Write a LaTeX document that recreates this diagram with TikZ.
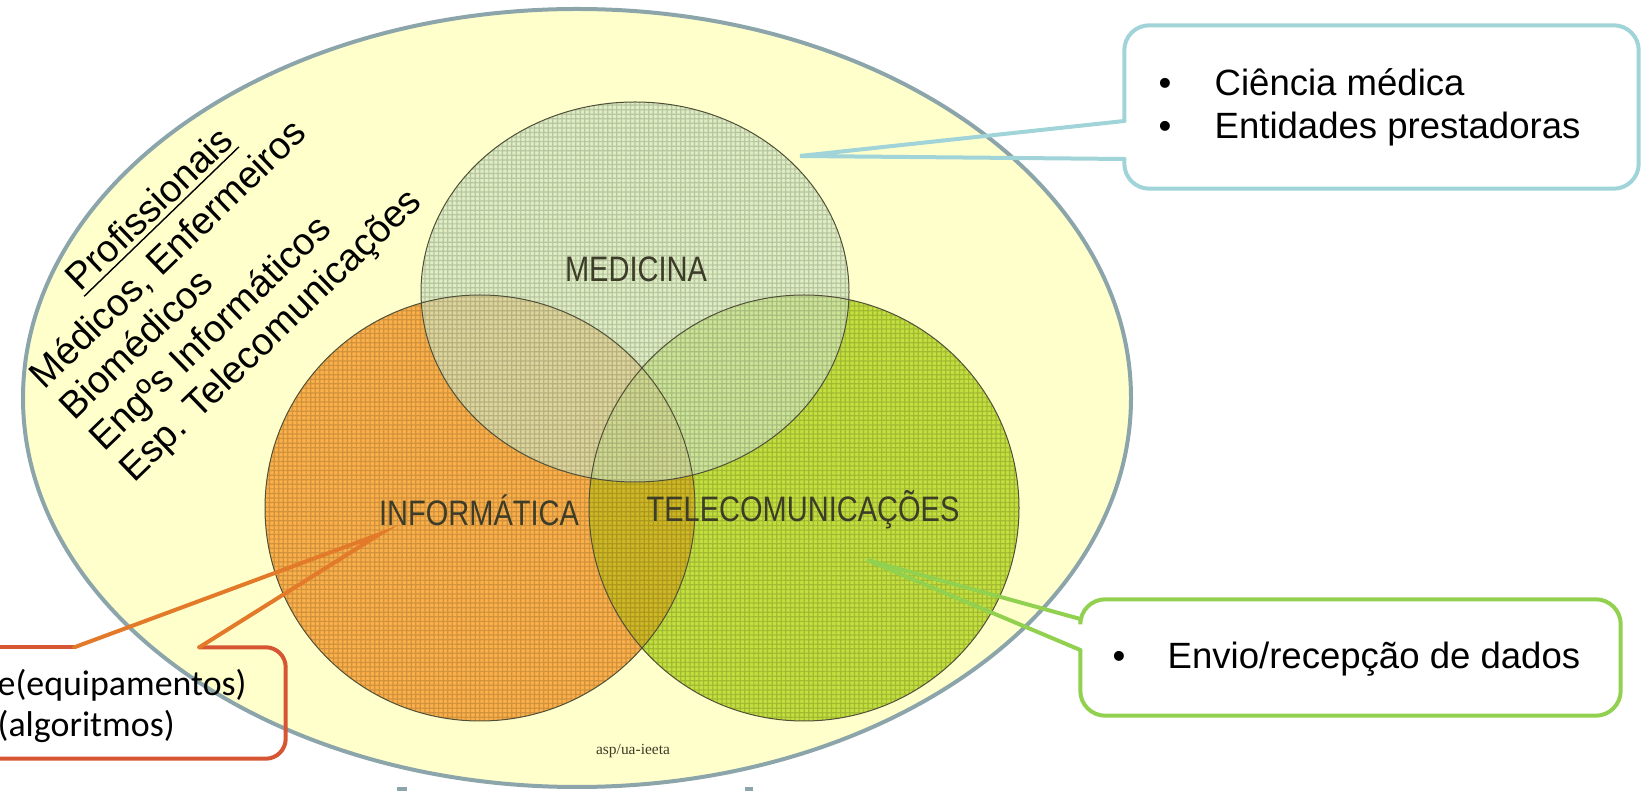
\documentclass[tikz,border=0pt]{standalone}
\usepackage{fontspec}
\setmainfont{Liberation Sans}
\newfontfamily\calfont{Carlito}
\newfontfamily\serfont{Liberation Serif}
\newfontfamily\narrowfont[FakeStretch=0.82]{Liberation Sans}
\usetikzlibrary{calc,patterns.meta}
\definecolor{rimgray}{HTML}{8CA5AA}
\definecolor{paleyellow}{HTML}{FFFFCC}
\definecolor{medgreen}{HTML}{D0E6BE}
\definecolor{infoorange}{HTML}{FCB04A}
\definecolor{telgreen}{HTML}{C4E03E}
\definecolor{mixolive}{HTML}{CFB826}
\definecolor{setline}{HTML}{505038}
\definecolor{setlabel}{HTML}{3C3C28}
\definecolor{calblue}{HTML}{A0D4D9}
\definecolor{calgreen}{HTML}{92D050}
\definecolor{calorange}{HTML}{E27A2A}
\definecolor{calred}{HTML}{D65532}
\tikzset{
  setname/.style={font=\narrowfont\fontsize{10.07}{12}\selectfont, text=setlabel, inner sep=0pt},
  bullettext/.style={font=\fontsize{10.4}{12.2}\selectfont, align=left, inner sep=0pt, anchor=west},
  proftext/.style={font=\fontsize{10.8}{12}\selectfont, anchor=base west, inner sep=0pt},
  boxframe/.style={inner sep=0pt},
  callline/.style={line width=0.4mm, line cap=round, line join=miter},
  setgrid/.style={pattern={Hatch[angle=0,distance=1.3pt,line width=0.35pt]}, pattern color=black},
}
\begin{document}
\begin{tikzpicture}[x=0.1mm,y=-0.1mm]
\useasboundingbox (0,0) rectangle (1641,791);
\draw[rimgray, line width=0.4mm, fill=paleyellow] (577,398) ellipse [x radius=554, y radius=389];
\fill[infoorange] (480,508) ellipse [x radius=215, y radius=213];
\fill[telgreen] (804,508) ellipse [x radius=215, y radius=213];
\begin{scope}
  \clip (480,508) ellipse [x radius=215, y radius=213];
  \fill[mixolive] (804,508) ellipse [x radius=215, y radius=213];
\end{scope}
\fill[medgreen, fill opacity=0.7] (635,292) ellipse [x radius=214, y radius=190];
\begin{scope}[transparency group, opacity=0.17]
  \fill[setgrid] (480,508) ellipse [x radius=215, y radius=213]
    (804,508) ellipse [x radius=215, y radius=213]
    (635,292) ellipse [x radius=214, y radius=190];
\end{scope}
\draw[setline, line width=0.1mm] (480,508) ellipse [x radius=215, y radius=213]
  (804,508) ellipse [x radius=215, y radius=213]
  (635,292) ellipse [x radius=214, y radius=190];
\node[setname] (medicina) at (636,269) {MEDICINA};
\node[setname] (informatica) at (479,510) {INFORMÁTICA};
\node[setname] (telecom) at (803,510) {TELECOMUNICAÇÕES};
\node[font=\serfont\fontsize{4.4}{5}\selectfont, text=setlabel, inner sep=0pt] (autor) at (633,751) {asp/ua-ieeta};
\begin{scope}[shift={(44,391)}, rotate=44, transform shape]
  \node[proftext] (profissionais) at (94,-45.5) {\underline{Profissionais}};
  \node[proftext] (medicos) at (0,0) {Médicos, Enfermeiros};
  \node[proftext] (biomedicos) at (0,43) {Biomédicos};
  \node[proftext] (engenheiros) at (0,86) {Engºs Informáticos};
  \node[proftext] (especialistas) at (0,129) {Esp. Telecomunicações};
\end{scope}
\node[boxframe, minimum width=51.3mm, minimum height=16.2mm] (medbox) at (1381.5,107) {};
\coordinate (medtip) at (800,156);
\draw[calblue, callline, rounded corners=2.5mm] ($(medbox.west)+(0,52)$) |- (medbox.south east) |- (medbox.north west) -- ($(medbox.west)+(0,14)$);
\draw[calblue, callline] ($(medbox.west)+(0,14)$) -- (medtip) -- ($(medbox.west)+(0,52)$);
\node[bullettext] (medtext) at (1158,107) {\makebox[5.6mm][l]{•}Ciência médica\\\makebox[5.6mm][l]{•}Entidades prestadoras};
\node[boxframe, minimum width=53.9mm, minimum height=11.5mm] (telbox) at (1350.5,657.5) {};
\coordinate (teltip) at (867,560);
\draw[calgreen, callline, rounded corners=2.5mm] ($(telbox.west)+(0,-7.5)$) |- (telbox.south east) |- (telbox.north west) -- ($(telbox.west)+(0,-38.5)$);
\draw[calgreen, callline] ($(telbox.west)+(0,-38.5)$) -- (teltip) -- ($(telbox.west)+(0,-7.5)$);
\node[bullettext] (teltext) at (1112,659) {\makebox[5.5mm][l]{•}Envio/recepção de dados};
\node[boxframe, minimum width=28.5mm, minimum height=11mm] (infbox) at (142.5,703) {};
\coordinate (inftip) at (380,534);
\draw[calred, callline, rounded corners=2mm] ($(infbox.north west)+(200,0)$) -| (infbox.south east) -- (infbox.south west);
\draw[calred, callline] (infbox.north west) -- ($(infbox.north west)+(75,0)$);
\draw[calorange, callline] ($(infbox.north west)+(75,0)$) -- (inftip) -- ($(infbox.north west)+(200,0)$);
\node[font=\calfont\fontsize{10.2}{11.9}\selectfont, align=left, inner sep=0pt, anchor=west] (inftext) at (-3,706) {e(equipamentos)\\(algoritmos)};
\fill[rimgray] (397,787) rectangle (407,791);
\fill[rimgray] (745,787) rectangle (753,791);
\end{tikzpicture}
\end{document}
